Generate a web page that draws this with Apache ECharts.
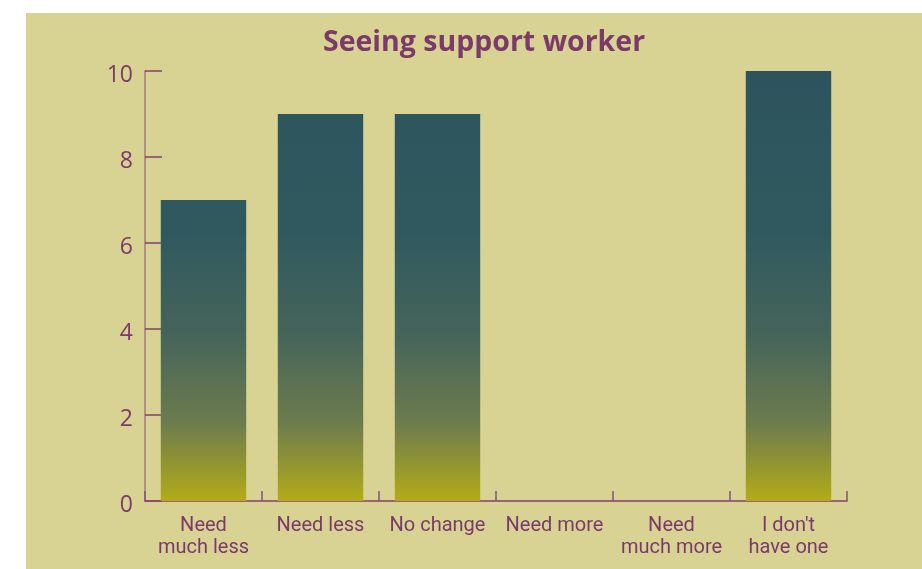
<!DOCTYPE html>
<html>
<head>
<meta charset="utf-8">
<script src="https://cdn.jsdelivr.net/npm/echarts@6/dist/echarts.min.js"></script>
<style>
html,body{margin:0;padding:0;background:#ffffff;}
#chart{width:922px;height:569px;}
</style>
</head>
<body>
<div id="chart"></div>
<script>
const titleText = 'Seeing support worker';
const categories = ['Need\nmuch less', 'Need less', 'No change', 'Need more', 'Need\nmuch more', "I don't\nhave one"];
const values = [7, 9, 9, 0, 0, 10];
const yTicks = [0, 2, 4, 6, 8, 10];

const purple = '#7b3a6b';
const chart = echarts.init(document.getElementById('chart'), null, {renderer: 'canvas'});
chart.setOption({
  backgroundColor: '#ffffff',
  animation: false,
  graphic: [{
    type: 'rect', z: -10, silent: true,
    shape: {x: 26, y: 13, width: 900, height: 560},
    style: {fill: '#d8d393'}
  }, {
    type: 'text', left: 323, top: 28, z: 10,
    style: {text: titleText, fill: purple, font: 'bold 28.5px "Open Sans"'}
  }],
  grid: {left: 145, right: 75, top: 71, bottom: 68},
  xAxis: {
    type: 'category', data: categories,
    axisLine: {lineStyle: {color: '#84406f', width: 1.5}},
    axisTick: {show: true, inside: true, length: 10, lineStyle: {color: '#8a5078', width: 1.5}},
    axisLabel: {color: purple, fontFamily: 'Roboto', fontSize: 20, lineHeight: 22, margin: 14, interval: 0}
  },
  yAxis: {
    type: 'value', min: 0, max: 10, interval: 2,
    axisLine: {show: true, lineStyle: {color: '#a07a82', width: 1.5}},
    axisTick: {show: true, inside: true, length: 17, lineStyle: {color: '#84406f', width: 1.5}},
    splitLine: {show: false},
    axisLabel: {color: purple, margin: 12,
      formatter: v => yTicks.includes(v) ? '{n|' + v + '}' : '',
      rich: {n: {color: purple, fontFamily: 'Open Sans', fontSize: 23, padding: [8, 0, 0, 0]}}}
  },
  series: [{
    type: 'bar', data: values, barWidth: '73%',
    itemStyle: {
      color: {
        type: 'linear', global: true, x: 0, y: 71, x2: 0, y2: 501,
        colorStops: [
          {offset: 0, color: '#2d545e'},
          {offset: 0.38, color: '#30595f'},
          {offset: 0.62, color: '#46655a'},
          {offset: 0.82, color: '#6d7c4d'},
          {offset: 1, color: '#b3ac17'}
        ]
      }
    }
  }]
});
</script>
</body>
</html>
